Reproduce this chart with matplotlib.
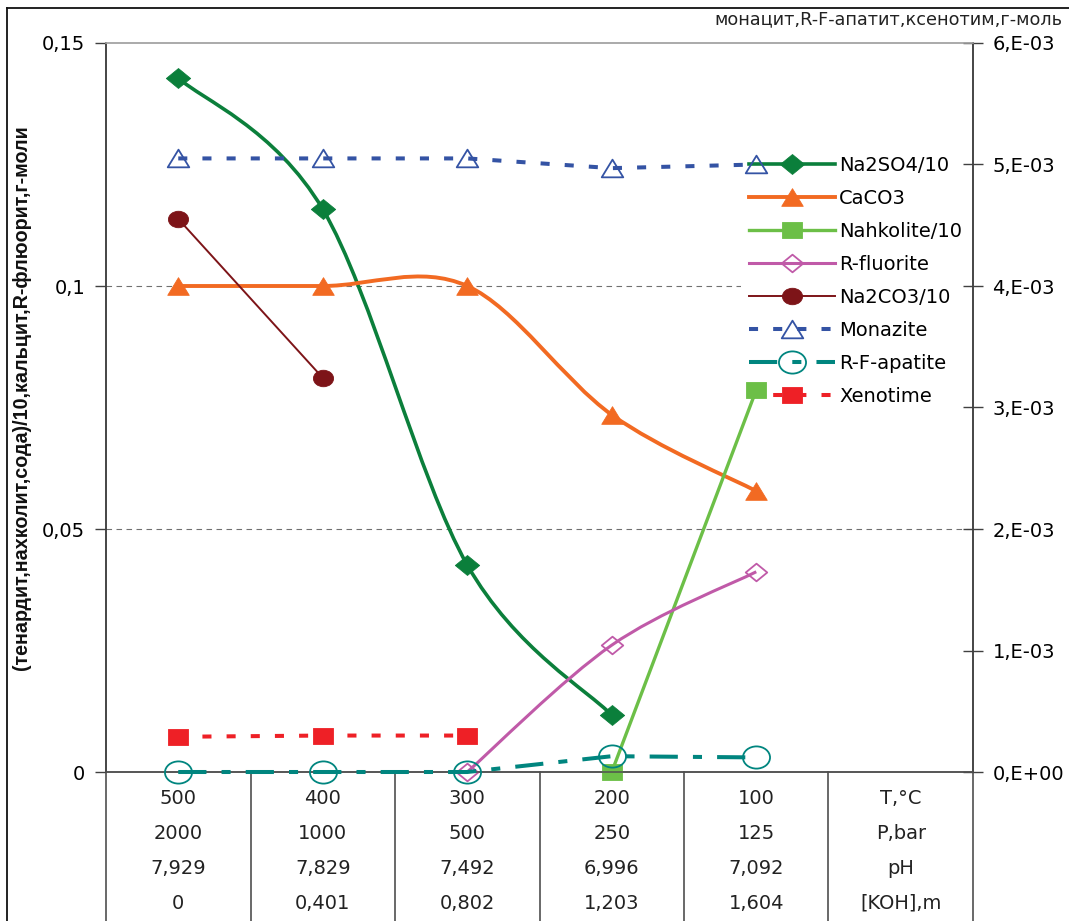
import numpy as np
import matplotlib
matplotlib.use("Agg")
import matplotlib.pyplot as plt
from matplotlib.path import Path
from matplotlib.patches import PathPatch
from matplotlib.markers import MarkerStyle
from matplotlib.lines import Line2D
import matplotlib.transforms as mtransforms

plt.rcParams['font.family'] = ['DejaVu Sans']

nan = np.nan
# ---------------- data ----------------
TEMP_C = ['500', '400', '300', '200', '100']
P_BAR = ['2000', '1000', '500', '250', '125']
PH = ['7,929', '7,829', '7,492', '6,996', '7,092']
KOH = ['0', '0,401', '0,802', '1,203', '1,604']
ROW_NAMES = ['T,°C', 'P,bar', 'pH', '[KOH],m']

na2so4 = [0.1428, 0.1158, 0.0426, 0.0117, nan]
caco3 = [0.100, 0.100, 0.100, 0.0735, 0.0578]
nahkolite = [nan, nan, nan, 0.0, 0.0786]
r_fluorite = [nan, nan, 0.0, 0.0261, 0.0412]
na2co3 = [0.1138, 0.0811, nan, nan, nan]
monazite = [5.05e-3, 5.05e-3, 5.05e-3, 4.97e-3, 5.00e-3]
apatite = [0.0, 0.0, 0.0, 0.13e-3, 0.12e-3]
xenotime = [0.29e-3, 0.30e-3, 0.30e-3, nan, nan]

LEFT_TICKS = [0, 0.05, 0.1, 0.15]
LEFT_LABELS = ['0', '0,05', '0,1', '0,15']
RIGHT_TICKS = [0, 1e-3, 2e-3, 3e-3, 4e-3, 5e-3, 6e-3]
RIGHT_LABELS = ['0,E+00', '1,E-03', '2,E-03', '3,E-03', '4,E-03', '5,E-03', '6,E-03']
GRID_VALUES = [0.05, 0.1]

LEFT_TITLE = '(тенардит,нахколит,сода)/10,кальцит,R-флюорит,г-моли'
RIGHT_TITLE = 'монацит,R-F-апатит,ксенотим,г-моль'

# ---------------- figure ----------------
W, H = 1069, 921
fig = plt.figure(figsize=(W / 100, H / 100), dpi=100)
L, R, T, B = 106, 973, 43, 772
ax = fig.add_axes([L / W, 1 - B / H, (R - L) / W, (B - T) / H])
ax2 = ax.twinx()
ax.set_zorder(1)
ax2.set_zorder(2)
ax.patch.set_visible(False)

x = np.arange(len(TEMP_C))
ax.set_xlim(-0.5, 5.5)
ax.set_ylim(0, 0.15)
ax2.set_ylim(0, 6e-3)
ax.set_xticks([])
ax2.set_xticks([])

FS = 14
ax.set_yticks(LEFT_TICKS)
ax.set_yticklabels(LEFT_LABELS, fontsize=FS)
ax.tick_params(axis='y', direction='out', length=8, width=1.0, pad=7, color='#404040')
ax2.set_yticks(RIGHT_TICKS)
ax2.set_yticklabels(RIGHT_LABELS, fontsize=FS)
ax2.tick_params(axis='y', direction='inout', length=14, width=1.0, pad=7, color='#404040')

for a in (ax, ax2):
    a.spines['top'].set_color('#a8a8a8')
    a.spines['left'].set_color('#404040')
    a.spines['right'].set_color('#404040')
    a.spines['bottom'].set_color('#505050')
    for s in a.spines.values():
        s.set_linewidth(1.1)

for g in GRID_VALUES:
    ax.axhline(g, color='#707070', lw=0.8, ls=(0, (5, 4)), zorder=0.5)

SX = 1.22
def mk(kind):
    if kind == 'diamond':
        p = Path([(0, 1), (SX, 0), (0, -1), (-SX, 0), (0, 1)],
                 [Path.MOVETO, Path.LINETO, Path.LINETO, Path.LINETO, Path.CLOSEPOLY])
    elif kind == 'triangle':
        p = Path([(0, 1), (-SX, -1), (SX, -1), (0, 1)],
                 [Path.MOVETO, Path.LINETO, Path.LINETO, Path.CLOSEPOLY])
    elif kind == 'square':
        p = Path([(-SX, -1), (SX, -1), (SX, 1), (-SX, 1), (-SX, -1)],
                 [Path.MOVETO, Path.LINETO, Path.LINETO, Path.LINETO, Path.CLOSEPOLY])
    else:
        p = mtransforms.Affine2D().scale(SX, 1).transform_path(Path.unit_circle())
    return MarkerStyle(p)


def smooth_path(xs, ys):
    xs = np.asarray(xs, float)
    ys = np.asarray(ys, float)
    ok = ~np.isnan(ys)
    P = np.column_stack([xs[ok], ys[ok]])
    n = len(P)
    verts = [P[0]]
    codes = [Path.MOVETO]
    for i in range(n - 1):
        p0 = P[i - 1] if i > 0 else P[i]
        p1 = P[i]
        p2 = P[i + 1]
        p3 = P[i + 2] if i + 2 < n else P[i + 1]
        c1 = p1 + (p2 - p0) / 6.0
        c2 = p2 - (p3 - p1) / 6.0
        verts += [c1, c2, p2]
        codes += [Path.CURVE4] * 3
    return Path(verts, codes)


series = [
    # axis, values, label, color, lw, ls, marker, ms, face, smooth
    (ax, na2so4, 'Na2SO4/10', '#0b7f3b', 2.6, '-', 'diamond', 17.5, 'fill', True),
    (ax, caco3, 'CaCO3', '#f26a22', 2.8, '-', 'triangle', 15.5, 'fill', True),
    (ax, nahkolite, 'Nahkolite/10', '#6cbf47', 2.4, '-', 'square', 14.5, 'fill', True),
    (ax, r_fluorite, 'R-fluorite', '#c05aa8', 2.2, '-', 'diamond', 15.5, 'none', True),
    (ax, na2co3, 'Na2CO3/10', '#7d1418', 1.4, '-', 'circle', 14.5, 'fill', True),
    (ax2, monazite, 'Monazite', '#3453a4', 2.9, (0, (2.25, 3.75)), 'triangle', 15.5, 'none', False),
    (ax2, apatite, 'R-F-apatite', '#00857f', 2.9, (0, (7.0, 3.75, 2.25, 3.75)), 'circle', 19.5, 'none', False),
    (ax2, xenotime, 'Xenotime', '#ee2026', 2.9, (0, (2.25, 3.75)), 'square', 14.5, 'fill', False),
]

handles = []
for a, vals, lab, col, lw, ls, m, ms, face, smooth in series:
    if smooth:
        path = smooth_path(x, vals)
        patch = PathPatch(path, fill=False, edgecolor=col, lw=lw, ls=ls,
                          capstyle='butt', joinstyle='round', zorder=3,
                          transform=a.transData, clip_on=False)
        a.add_patch(patch)
    else:
        a.plot(x, vals, color=col, lw=lw, ls=ls, dash_capstyle='butt',
               zorder=3, clip_on=False)
    mfc = col if face == 'fill' else 'none'
    mew = 0.6 if face == 'fill' else 1.3
    a.plot(x, vals, linestyle='none', marker=mk(m), ms=ms, mfc=mfc, mec=col,
           mew=mew, zorder=4, clip_on=False)
    handles.append(Line2D([], [], color=col, lw=lw, ls=ls, marker=mk(m), ms=ms,
                          mfc=mfc, mec=col, mew=mew, dash_capstyle='butt'))

leg = ax.legend(handles, [s[2] for s in series], loc='upper left',
                bbox_to_anchor=((749 - 0.4 * 19.4) / W, 1 - 148 / H),
                bbox_transform=fig.transFigure, fontsize=FS, frameon=True,
                facecolor='white', edgecolor='none', framealpha=1.0,
                borderpad=0.4, borderaxespad=0, handlelength=4.43,
                handletextpad=0.2, labelspacing=0.72, numpoints=1, fancybox=False)
leg.set_zorder(1.5)

# ---------------- table below ----------------
ybot = -(H - B) / (B - T)
xt = ax.get_xaxis_transform()
bounds = np.arange(-0.5, 6.0, 1.0)
for b in bounds:
    ax.plot([b, b], [0, ybot], transform=xt, color='#404040', lw=1.1,
            clip_on=False, zorder=5)

rows = [TEMP_C, P_BAR, PH, KOH]
row_y = [798, 833, 868, 903]
for r, (vals, yy) in enumerate(zip(rows, row_y)):
    ya = -(yy - B) / (B - T)
    for i, v in enumerate(vals):
        ax.text(x[i], ya, v, transform=xt, ha='center', va='center',
                fontsize=FS, color='#222222', clip_on=False)
    ax.text(5, ya, ROW_NAMES[r], transform=xt, ha='center', va='center',
            fontsize=FS, color='#222222', clip_on=False)

# ---------------- titles ----------------
fig.text(22 / W, 1 - 398 / H, LEFT_TITLE, rotation=90, ha='center', va='center',
         fontsize=14.2, fontweight='bold', family=['Liberation Sans', 'DejaVu Sans'],
         color='#111111')
fig.text(1062 / W, 1 - 19 / H, RIGHT_TITLE, ha='right', va='center',
         fontsize=12.7, color='#222222')

# outer border
fig.add_artist(Line2D([7 / W, 7 / W], [0, 1 - 8 / H], transform=fig.transFigure,
                      color='#111111', lw=1.3))
fig.add_artist(Line2D([7 / W, 1], [1 - 8 / H, 1 - 8 / H], transform=fig.transFigure,
                      color='#111111', lw=1.3))

fig.savefig('out.png', dpi=100)
